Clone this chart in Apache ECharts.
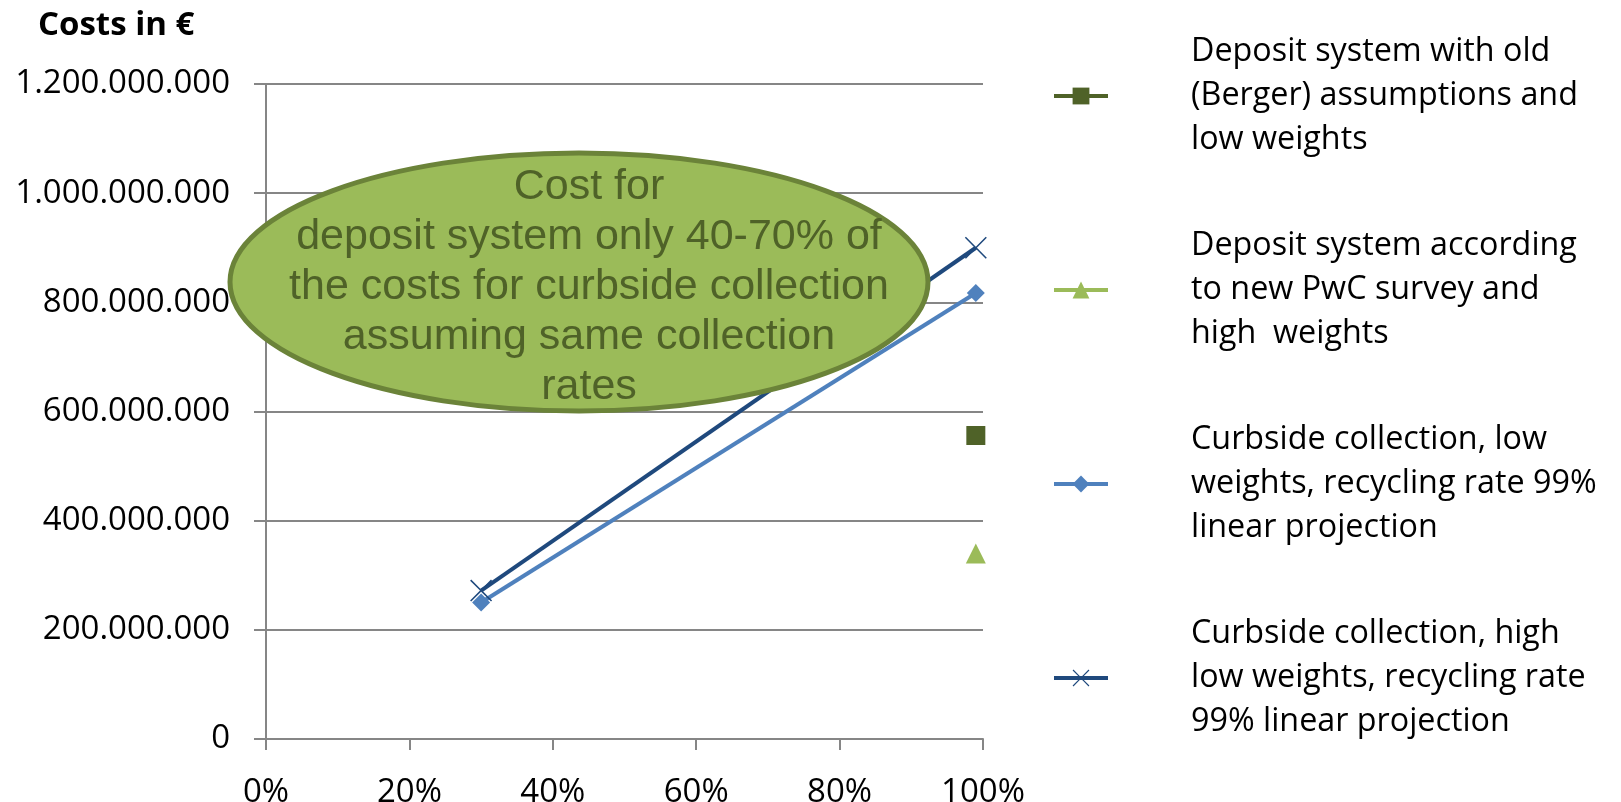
<!DOCTYPE html>
<html>
<head>
<meta charset="utf-8">
<script src="https://cdn.jsdelivr.net/npm/echarts@6/dist/echarts.min.js"></script>
<style>html,body{margin:0;padding:0;background:#fff}#chart{width:1621px;height:802px}</style>
</head>
<body>
<div id="chart"></div>
<script>
// ---- data ----
const seriesNames = [
  'Deposit system with old\n(Berger) assumptions and\nlow weights',
  'Deposit system according\nto new PwC survey and\nhigh  weights',
  'Curbside collection, low\nweights, recycling rate 99%\nlinear projection',
  'Curbside collection, high\nlow weights, recycling rate\n99% linear projection'
];
const depositX = [0.99];
const depositOld = [556000000];
const depositPwc = [340000000];
const curbsideX = [0.30, 0.99];
const curbsideLow = [250000000, 817000000];
const curbsideHigh = [272000000, 900000000];
const xTicks = [0, 0.2, 0.4, 0.6, 0.8, 1.0];
const yTicks = [0, 200000000, 400000000, 600000000, 800000000, 1000000000, 1200000000];
const yTitle = 'Costs in €';
const noteLines = ['Cost for', 'deposit system only 40-70% of', 'the costs for curbside collection', 'assuming same collection', 'rates'];

const pair = (xs, ys) => ys.map((v, i) => [xs[i], v]);
const fmtNum = v => String(Math.round(v)).replace(/\B(?=(\d{3})+(?!\d))/g, '.');
const xSymbol = 'path://M0,0.5 L0.5,0 L5,4.5 L9.5,0 L10,0.5 L5.5,5 L10,9.5 L9.5,10 L5,5.5 L0.5,10 L0,9.5 L4.5,5 Z';
const FONT = '"Open Sans", sans-serif';

const chart = echarts.init(document.getElementById('chart'), null, {renderer: 'canvas'});
chart.setOption({
  animation: false,
  backgroundColor: '#ffffff',
  grid: {left: 266, right: 638, top: 84, bottom: 63, containLabel: false, outerBoundsMode: 'none'},
  xAxis: {
    type: 'value', min: xTicks[0], max: xTicks[xTicks.length - 1], interval: 0.2,
    axisLine: {show: true, lineStyle: {color: '#868686', width: 2}},
    axisTick: {show: true, length: 11, lineStyle: {color: '#868686', width: 2}},
    splitLine: {show: false},
    axisLabel: {margin: 37, color: '#000', fontFamily: FONT, fontSize: 33,
      formatter: v => Math.round(v * 100) + '%'}
  },
  yAxis: {
    type: 'value', min: yTicks[0], max: yTicks[yTicks.length - 1], interval: 200000000,
    axisLine: {show: true, lineStyle: {color: '#868686', width: 2}},
    axisTick: {show: true, length: 12, lineStyle: {color: '#868686', width: 2}},
    splitLine: {show: true, lineStyle: {color: '#868686', width: 2}},
    axisLabel: {margin: 36, color: '#000', fontFamily: FONT, fontSize: 33, formatter: fmtNum}
  },
  legend: {
    orient: 'vertical', left: 1047, top: 25, itemGap: 62,
    itemWidth: 54, itemHeight: 21,
    data: seriesNames,
    lineStyle: {width: 4},
    textStyle: {fontFamily: FONT, fontSize: 32.3, lineHeight: 44, color: '#000', padding: [0, 0, 0, 78]}
  },
  graphic: [
    {type: 'text', left: 38, top: 9, z: 100,
      style: {text: yTitle, fontFamily: FONT, fontWeight: 'bold', fontSize: 33, fill: '#000'}},
    {type: 'ellipse', z: 100, shape: {cx: 579, cy: 282, rx: 349, ry: 129},
      style: {fill: '#9bbb59', stroke: '#6b8339', lineWidth: 5}},
    {type: 'text', z: 101, x: 589, y: 162,
      style: {text: noteLines.join('\n'), fontFamily: '"Liberation Sans", Arial, sans-serif',
        fontSize: 43, lineHeight: 50, fill: '#4f6228', align: 'center', verticalAlign: 'top'}}
  ],
  series: [
    {name: seriesNames[0], type: 'line', data: pair(depositX, depositOld),
      symbol: 'rect', symbolSize: 19, color: '#4f6228', lineStyle: {width: 4, color: '#4f6228'}},
    {name: seriesNames[1], type: 'line', data: pair(depositX, depositPwc),
      symbol: 'triangle', symbolSize: 20, color: '#9bbb59', lineStyle: {width: 4, color: '#9bbb59'}},
    {name: seriesNames[2], type: 'line', data: pair(curbsideX, curbsideLow),
      symbol: 'diamond', symbolSize: 18, color: '#4f81bd', lineStyle: {width: 4, color: '#4f81bd'}},
    {name: seriesNames[3], type: 'line', data: pair(curbsideX, curbsideHigh),
      symbol: xSymbol, symbolSize: 22, color: '#1f497d', lineStyle: {width: 4, color: '#1f497d'}}
  ]
});
</script>
</body>
</html>
